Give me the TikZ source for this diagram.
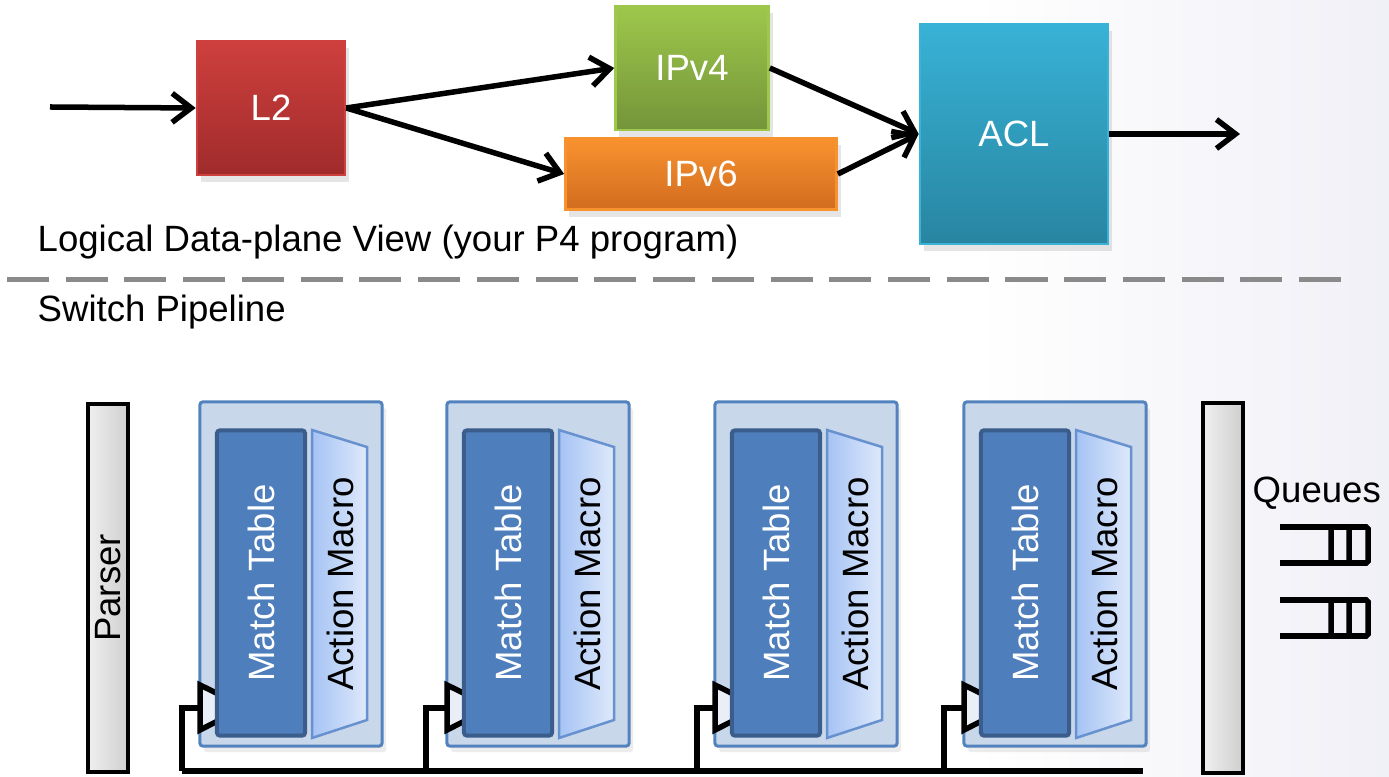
\documentclass[tikz,border=0pt]{standalone}
\usepackage{fontspec}
\setmainfont{Liberation Sans}
\usetikzlibrary{arrows.meta, positioning, shadows}

\definecolor{bglav}{HTML}{E9E9F3}
\definecolor{l2top}{HTML}{CE403E}
\definecolor{l2bot}{HTML}{A02B2B}
\definecolor{v4top}{HTML}{9DC84B}
\definecolor{v4bot}{HTML}{75943A}
\definecolor{v6top}{HTML}{F8922F}
\definecolor{v6bot}{HTML}{D26C1F}
\definecolor{acltop}{HTML}{38B2D6}
\definecolor{aclbot}{HTML}{2885A1}
\definecolor{stgfill}{HTML}{C9D7EA}
\definecolor{stgline}{HTML}{5283BE}
\definecolor{mtfill}{HTML}{4E7EBB}
\definecolor{mtline}{HTML}{3B5D8C}
\definecolor{actl}{HTML}{A6C3F4}
\definecolor{actr}{HTML}{DEE9FB}
\definecolor{actline}{HTML}{6892CF}
\definecolor{sepgray}{HTML}{8A8A8A}
\definecolor{trifill}{HTML}{E9EEF7}

\pgfdeclarehorizontalshading{bgshade}{100bp}{color(0bp)=(white); color(60bp)=(white); color(82bp)=(bglav); color(100bp)=(bglav)}

\begin{document}
\begin{tikzpicture}[x=0.01cm, y=-0.01cm, font=\fontsize{10.4}{12.5}\selectfont,
  blk/.style={draw=#1, line width=0.25mm, text=white, inner sep=0pt,
    drop shadow={shadow xshift=0.4mm, shadow yshift=-0.7mm, opacity=0.2}},
  arr/.style={-{Straight Barb[length=1.9mm, width=2.9mm]}, line width=0.55mm},
  stagebox/.style={draw=stgline, fill=stgfill, line width=0.3mm, rounded corners=0.8pt,
    minimum width=1.82cm, minimum height=3.44cm, inner sep=0pt,
    drop shadow={shadow xshift=0.4mm, shadow yshift=-0.6mm, opacity=0.15}},
  mtab/.style={draw=mtline, fill=mtfill, line width=0.4mm, rounded corners=0.8pt, text=white,
    rotate=90, minimum width=3.05cm, minimum height=0.88cm, inner sep=0pt},
  act/.style={draw=actline, line width=0.25mm, left color=actl, right color=actr},
  actlbl/.style={rotate=90, inner sep=0pt},
  intri/.style={draw=black, fill=trifill, line width=0.55mm, line join=miter},
  wire/.style={draw=black, line width=0.55mm},
  bar/.style={draw=black, line width=0.4mm, left color=gray!12, right color=gray!38,
    minimum width=0.4cm, inner sep=0pt},
  qline/.style={draw=black, line width=0.55mm, rounded corners=0.5pt},
  sep/.style={draw=sepgray, line width=0.5mm, dash pattern=on 4.2mm off 1.67mm}]

% background
\shade[shading=bgshade] (0,0) rectangle (1389,777);
\useasboundingbox (0,0) rectangle (1389,777);

% logical view
\coordinate (in) at (50,107);
\node[blk=l2top, top color=l2top, bottom color=l2bot, minimum width=1.48cm, minimum height=1.34cm] (l2) at (271,108) {L2};
\node[blk=v4top, top color=v4top, bottom color=v4bot, minimum width=1.53cm, minimum height=1.24cm] (ipv4) at (692,68) {IPv4};
\node[blk=v6top, top color=v6top, bottom color=v6bot, minimum width=2.71cm, minimum height=0.71cm] (ipv6) at (701,174) {IPv6};
\node[blk=acltop, top color=acltop, bottom color=aclbot, minimum width=1.88cm, minimum height=2.2cm] (acl) at (1014,134) {ACL};
\coordinate (out) at (1240,134);

\path[arr]
(in) edge (l2.west)
(l2.east) edge (ipv4.west)
(l2.east) edge (ipv6.west)
(ipv4.east) edge (acl.west)
(ipv6.east) edge (acl.west)
(acl.east) edge (out)
;

\node[anchor=west, inner sep=0pt] (logical) at (37,242) {Logical Data-plane View (your P4 program)};
\draw[sep] (7,280) -- (1345,280);
\node[anchor=west, inner sep=0pt] (switch) at (37,312) {Switch Pipeline};

% switch pipeline
\node[bar, minimum height=3.68cm] (parser) at (108,588) {};
\node[rotate=90, inner sep=0pt] (parserlbl) at (parser) {Parser};

% stage 1
\node[stagebox] (s1) at (291,574) {};
\draw[intri] (200,685) -- (245,707) -- (200,730) -- cycle;
\node[mtab] (m1) at (261,583) {Match Table};
\draw[act] (312,430) -- (367,447) -- (367,720) -- (312,738) -- cycle;
\node[actlbl] (a1) at (340,584) {Action Macro};

% stage 2
\node[stagebox] (s2) at (538,574) {};
\draw[intri] (447,685) -- (492,707) -- (447,730) -- cycle;
\node[mtab] (m2) at (508,583) {Match Table};
\draw[act] (559,430) -- (614,447) -- (614,720) -- (559,738) -- cycle;
\node[actlbl] (a2) at (587,584) {Action Macro};

% stage 3
\node[stagebox] (s3) at (806,574) {};
\draw[intri] (715,685) -- (760,707) -- (715,730) -- cycle;
\node[mtab] (m3) at (776,583) {Match Table};
\draw[act] (827,430) -- (882,447) -- (882,720) -- (827,738) -- cycle;
\node[actlbl] (a3) at (855,584) {Action Macro};

% stage 4
\node[stagebox] (s4) at (1055,574) {};
\draw[intri] (964,685) -- (1009,707) -- (964,730) -- cycle;
\node[mtab] (m4) at (1025,583) {Match Table};
\draw[act] (1076,430) -- (1131,447) -- (1131,720) -- (1076,738) -- cycle;
\node[actlbl] (a4) at (1104,584) {Action Macro};

% feedback wires
\coordinate (bus1) at (182,771);
\coordinate (bus2) at (426,771);
\coordinate (bus3) at (697,771);
\coordinate (bus4) at (944,771);
\coordinate (busend) at (1143,771);
\coordinate (in1) at (200,708);
\coordinate (in2) at (447,708);
\coordinate (in3) at (715,708);
\coordinate (in4) at (964,708);
\draw[wire] (bus1) -- (busend);
\draw[wire] (bus1) |- (in1);
\draw[wire] (bus2) |- (in2);
\draw[wire] (bus3) |- (in3);
\draw[wire] (bus4) |- (in4);

% queues
\node[bar, minimum height=3.69cm] (deparser) at (1223,588) {};
\node[anchor=west, inner sep=0pt] (queues) at (1252,493) {Queues};
\draw[qline] (1280,527) -- (1368,527) -- (1368,563) -- (1280,563)
  (1331,527) -- (1331,563) (1349,527) -- (1349,563);
\draw[qline] (1280,600) -- (1368,600) -- (1368,636) -- (1280,636)
  (1331,600) -- (1331,636) (1349,600) -- (1349,636);
\end{tikzpicture}
\end{document}
